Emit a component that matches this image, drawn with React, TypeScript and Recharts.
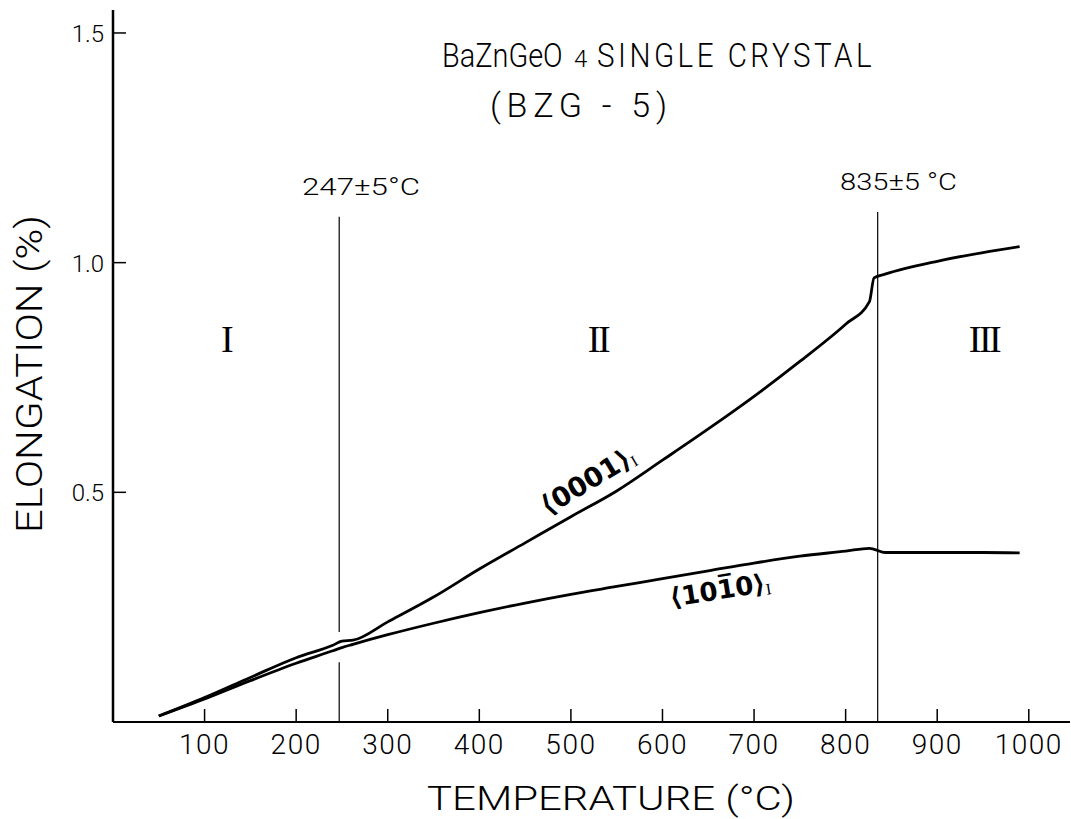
import React from 'react';
import { LineChart, Line, XAxis, YAxis, ReferenceLine } from 'recharts';

// temperatures (°C)
const temperatures = [50, 100, 150, 200, 240, 250, 262, 300, 350, 400, 450, 500, 550, 600, 650, 700, 750, 800, 826, 831, 843, 900, 950, 990];
// elongation (%) along <0001>
const elong0001 = [0.013, 0.053, 0.097, 0.14, 0.167, 0.176, 0.178, 0.218, 0.272, 0.333, 0.39, 0.447, 0.503, 0.57, 0.638, 0.709, 0.785, 0.866, 0.915, 0.967, 0.975, 1.003, 1.022, 1.035];
// elongation (%) along <10-10>
const elong1010 = [0.013, 0.05, 0.09, 0.128, 0.155, 0.162, 0.169, 0.19, 0.215, 0.238, 0.259, 0.278, 0.295, 0.312, 0.329, 0.346, 0.361, 0.372, 0.378, 0.376, 0.369, 0.369, 0.369, 0.368];

const xTicks = [100, 200, 300, 400, 500, 600, 700, 800, 900, 1000];
const yTicks = [0.5, 1.0, 1.5];

const data = temperatures.map((t, i) => ({ t, c0001: elong0001[i], c1010: elong1010[i] }));

const THIN = 'Roboto, "Liberation Sans", sans-serif';
const DEJA = '"DejaVu Sans", sans-serif';
const SERIF = '"Liberation Serif", "DejaVu Serif", serif';

const XTick = (props: any) => {
  const { x, y, payload } = props;
  return (
    <g>
      <line x1={x} x2={x} y1={y} y2={y - 13} stroke="#000" strokeWidth={1.5} />
      <text x={x} y={y + 32} textAnchor="middle" fontSize={28} fontWeight={300} letterSpacing={1.5} fontFamily={THIN} fill="#000">
        {payload.value}
      </text>
    </g>
  );
};

const YTick = (props: any) => {
  const { x, y, payload } = props;
  return (
    <g>
      <line x1={x} x2={x + 13} y1={y} y2={y} stroke="#000" strokeWidth={1.5} />
      <text x={x - 9} y={y + 9} textAnchor="end" fontSize={24} fontWeight={300} fontFamily={THIN} fill="#000">
        {Number(payload.value).toFixed(1)}
      </text>
    </g>
  );
};

// roman numerals with joined serifs
const Roman = ({ x, y, label }: { x: number; y: number; label: string }) => (
  <text x={x} y={y} fontSize={38} fontFamily={SERIF} letterSpacing={-2.5} textAnchor="middle" fill="#000">
    {label}
  </text>
);

export default function App() {
  return (
    <div style={{ position: 'absolute', left: 0, top: 0, width: 1071, height: 819, background: '#fff' }}>
      <LineChart width={1071} height={819} data={data} margin={{ top: 10, right: 1, left: 0, bottom: 37 }}>
        <XAxis
          dataKey="t"
          type="number"
          domain={[0, 1045]}
          ticks={xTicks}
          height={60}
          tickSize={0}
          tickMargin={0}
          tickLine={false}
          axisLine={{ stroke: '#000', strokeWidth: 2 }}
          tick={(p: any) => <XTick {...p} />}
        />
        <YAxis
          type="number"
          domain={[0, 1.55]}
          ticks={yTicks}
          width={113}
          tickSize={0}
          tickMargin={0}
          tickLine={false}
          axisLine={{ stroke: '#000', strokeWidth: 2.5 }}
          tick={(p: any) => <YTick {...p} />}
        />
        <ReferenceLine segment={[{ x: 247, y: 0 }, { x: 247, y: 0.13 }]} stroke="#000" strokeWidth={1.2} />
        <ReferenceLine segment={[{ x: 247, y: 0.196 }, { x: 247, y: 1.1 }]} stroke="#000" strokeWidth={1.2} />
        <ReferenceLine segment={[{ x: 835, y: 0 }, { x: 835, y: 1.11 }]} stroke="#000" strokeWidth={1.2} />
        <Line dataKey="c0001" type="monotone" stroke="#000" strokeWidth={2.8} dot={false} isAnimationActive={false} />
        <Line dataKey="c1010" type="monotone" stroke="#000" strokeWidth={2.8} dot={false} isAnimationActive={false} />
      </LineChart>
      <svg width={1071} height={819} style={{ position: 'absolute', left: 0, top: 0, pointerEvents: 'none' }}>
        <text transform="translate(442,67) scale(0.85,1)" fontSize={34} fontWeight={300} fontFamily={THIN} fill="#000">
          BaZnGeO
        </text>
        <text x={574} y={67} fontSize={24} fontWeight={300} fontFamily={THIN} fill="#000">4</text>
        <text x={597} y={67} fontSize={34} fontWeight={300} letterSpacing={4} fontFamily={THIN} textLength={278} lengthAdjust="spacingAndGlyphs" fill="#000">
          SINGLE CRYSTAL
        </text>
        <text x={490} y={117} fontSize={34} fontWeight={300} fontFamily={THIN} textLength={177} lengthAdjust="spacing" fill="#000">
          (BZG - 5)
        </text>
        <text x={302} y={195} fontSize={24} fontWeight={300} fontFamily={THIN} textLength={118} lengthAdjust="spacingAndGlyphs" fill="#000">
          247±5°C
        </text>
        <text x={840} y={190} fontSize={24} fontWeight={300} fontFamily={THIN} textLength={117} lengthAdjust="spacingAndGlyphs" fill="#000">
          835±5 °C
        </text>
        <Roman x={226} y={352} label="I" />
        <Roman x={598} y={352} label="II" />
        <Roman x={984} y={352} label="III" />
        <text transform="translate(588,481) rotate(-31)" y={9} textAnchor="middle" fontSize={27} fontWeight="bold" fontFamily={DEJA} fill="#000">
          ⟨0001⟩<tspan fontSize={16} fontWeight="normal" fontFamily={SERIF} dy={3}>I</tspan>
        </text>
        <text transform="translate(720,590) rotate(-9)" y={9} textAnchor="middle" fontSize={26} fontWeight="bold" fontFamily={DEJA} fill="#000">
          ⟨10{'1\u0305'}0⟩<tspan fontSize={16} fontWeight="normal" fontFamily={SERIF} dy={3}>I</tspan>
        </text>
        <text x={427} y={810} fontSize={34} fontWeight={300} fontFamily={THIN} textLength={368} lengthAdjust="spacingAndGlyphs" fill="#000">
          TEMPERATURE (°C)
        </text>
        <text transform="translate(42,533) rotate(-90)" fontSize={37} fontWeight={300} fontFamily={THIN} textLength={318} lengthAdjust="spacingAndGlyphs" fill="#000">
          ELONGATION (%)
        </text>
      </svg>
    </div>
  );
}
